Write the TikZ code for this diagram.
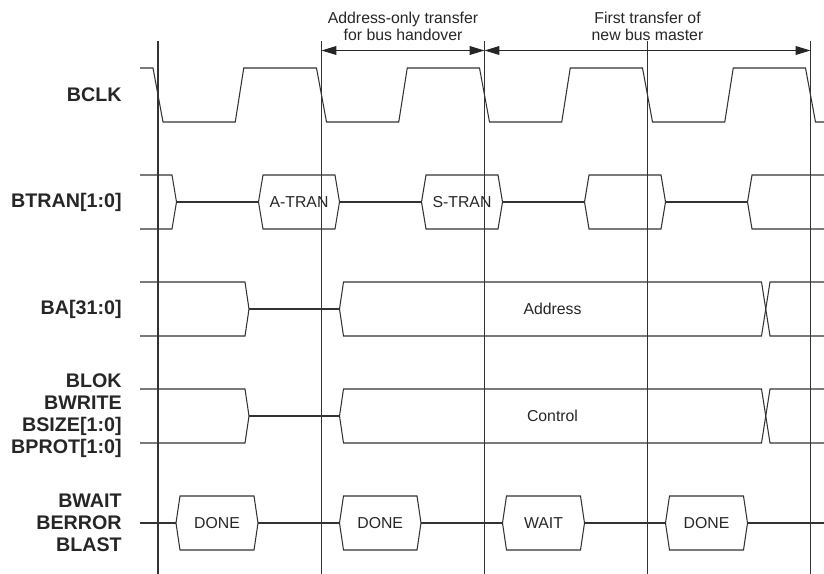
\documentclass[tikz,border=0pt]{standalone}
\usepackage{fontspec}
\setmainfont{Liberation Sans}
\usetikzlibrary{arrows.meta}

\begin{document}
\begin{tikzpicture}[x=0.02cm, y=-0.02cm,
        sig/.style={draw=black!80, line width=0.6pt, line join=miter},
        grid/.style={draw=black!80, line width=0.6pt},
        dim/.style={draw=black!85, line width=0.6pt, {Triangle[length=8.5pt,width=5pt]}-{Triangle[length=8.5pt,width=5pt]}},
        lbl/.style={anchor=east, align=right, inner sep=0pt, text=black!85, font=\fontsize{11.2}{12.5}\selectfont\bfseries},
        val/.style={inner sep=0pt, text=black!85, font=\fontsize{9}{10}\selectfont},
        note/.style={align=center, inner sep=0pt, text=black!85, font=\fontsize{9}{9.7}\selectfont}]
        \useasboundingbox (0,0) rectangle (824,574);

        % Linee verticali sui fronti di discesa
        \foreach \x [count=\i] in {158,321.5,484.5,647.5,810.5} {
            \draw[grid] (\x,41) -- (\x,574);
            \coordinate (m\i) at (\x,50.5);
        }

        % Quote in alto
        \draw[dim] (m2) -- (m3);
        \draw[dim] (m3) -- (m5);
        \node[note] (handover) at (403,26.5) {Address-only transfer\\for bus handover};
        \node[note] (firstxfer) at (647.5,26.5) {First transfer of\\new bus master};

        % Nomi dei segnali
        \node[lbl] (bclk) at (122,95) {BCLK};
        \node[lbl] (btran) at (122,202) {BTRAN[1:0]};
        \node[lbl] (ba) at (122,309) {BA[31:0]};
        \node[lbl] (ctrl) at (122,416) {BLOK\\BWRITE\\BSIZE[1:0]\\BPROT[1:0]};
        \node[lbl] (bwait) at (122,523) {BWAIT\\BERROR\\BLAST};

        % BCLK
        \draw[sig] (140,68) foreach \c in {158,321.5,484.5,647.5} {
            -- (\c-5,68) -- (\c+5,122) -- (\c+77.25,122) -- (\c+85.75,68)
        } -- (805.5,68) -- (815.5,122) -- (824,122);

        % BTRAN[1:0]
        \draw[sig] (140,175) -- (172,175) -- (176.5,202) -- (172,229) -- (140,229);
        \foreach \a/\b in {258.5/339.5, 421.5/502.5, 584.5/665.5}
            \draw[sig] (\a,202) -- (\a+4.5,175) -- (\b-4.5,175) -- (\b,202) -- (\b-4.5,229) -- (\a+4.5,229) -- cycle;
        \foreach \a/\b in {176.5/258.5, 339.5/421.5, 502.5/584.5, 665.5/747.5}
            \draw[sig] (\a,202) -- (\b,202);
        \draw[sig] (824,175) -- (752,175) -- (747.5,202) -- (752,229) -- (824,229);
        \node[val] (atran) at (299,202) {A-TRAN};
        \node[val] (stran) at (462,202) {S-TRAN};

        % BA[31:0] e segnali di controllo
        \foreach \y in {309,416} {
            \draw[sig] (140,\y-27) -- (245,\y-27) -- (249,\y) -- (245,\y+27) -- (140,\y+27);
            \draw[sig] (249,\y) -- (339.5,\y);
            \draw[sig] (339.5,\y) -- (343.5,\y-27) -- (761.5,\y-27) -- (770,\y+27) -- (824,\y+27);
            \draw[sig] (339.5,\y) -- (343.5,\y+27) -- (761.5,\y+27) -- (770,\y-27) -- (824,\y-27);
        }
        \node[val] (addr) at (552.5,309) {Address};
        \node[val] (control) at (552.5,416) {Control};

        % BWAIT, BERROR, BLAST
        \foreach \a/\b in {140/176, 258/339.5, 421/502.5, 584.5/665.5, 747.5/824}
            \draw[sig] (\a,523) -- (\b,523);
        \foreach \a/\b in {176/258, 339.5/421, 502.5/584.5, 665.5/747.5}
            \draw[sig] (\a,523) -- (\a+4,496) -- (\b-4,496) -- (\b,523) -- (\b-4,550) -- (\a+4,550) -- cycle;
        \node[val] (done1) at (217,523) {DONE};
        \node[val] (done2) at (380.2,523) {DONE};
        \node[val] (wait) at (543.5,523) {WAIT};
        \node[val] (done3) at (706.5,523) {DONE};
    \end{tikzpicture}
\end{document}
